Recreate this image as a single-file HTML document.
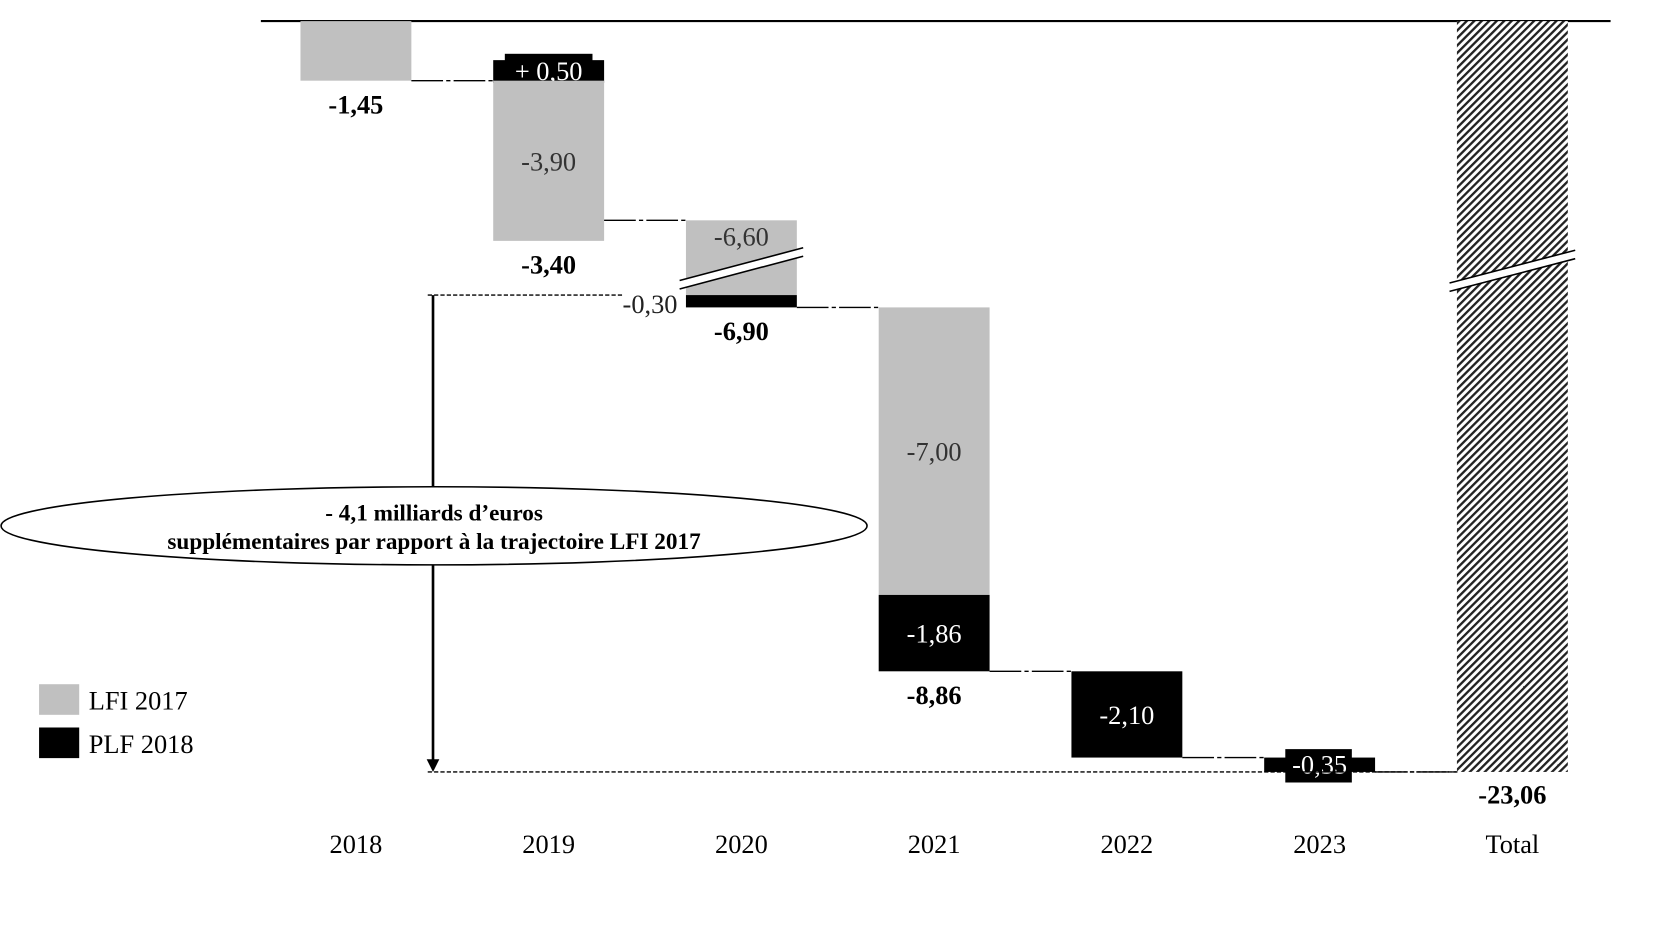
<!DOCTYPE html>
<html><head><meta charset="utf-8"><style>
html,body{margin:0;padding:0;background:#fff;}
svg{display:block;font-family:"Liberation Serif",serif;}
</style></head><body>
<svg id="chart" width="1656" height="926" viewBox="0 0 1568 877" preserveAspectRatio="none" xmlns="http://www.w3.org/2000/svg">
<defs>
<pattern id="hatch" patternUnits="userSpaceOnUse" width="5" height="5" patternTransform="rotate(45)">
<rect width="5" height="5" fill="#fff"/><rect width="2.2" height="5" fill="#222"/>
</pattern>
</defs>
<g id="g"></g>
</svg>
<script>
const categories = ["2018","2019","2020","2021","2022","2023","Total"];
const lfi = [-1.45, -3.90, -6.60, -7.00, 0, 0];
const plf = [0, 0.50, -0.30, -1.86, -2.10, -0.35];
const lfiLabels = ["", "-3,90", "-6,60", "-7,00", "", ""];
const plfLabels = ["", "+ 0,50", "-0,30", "-1,86", "-2,10", "-0,35"];
const cumLabels = ["-1,45", "-3,40", "-6,90", "-8,86", "", "", "-23,06"];
const breakCut = 4.78; // axis-break compression on 2020 LFI bar and total

const NS = "http://www.w3.org/2000/svg";
const g = document.getElementById("g");
const y0 = 20, k = 38.9;
const yScale = v => y0 + v * k;
const xCenter = i => 337 + i * 182.5;
const bw = 105;
function el(tag, attrs, parent){ const e=document.createElementNS(NS,tag); for(const a in attrs) e.setAttribute(a,attrs[a]); (parent||g).appendChild(e); return e; }
function txt(x,y,s,opt){ const t=el("text",Object.assign({x:x,y:y,"text-anchor":"middle","font-size":25,fill:"#000"},opt||{})); t.textContent=s; return t; }

const ax = el("line",{x1:247,y1:20,x2:1525,y2:20,stroke:"#000","stroke-width":2});



let L = 0;
const levels = [];
for (let i=0;i<lfi.length;i++){
  const cx = xCenter(i), x = cx - bw/2;
  if (plf[i] > 0) {
    const top = yScale(L - plf[i]), bot = yScale(L);
    const b = el("rect",{x:x,y:top,width:bw,height:bot-top+2,fill:"#000"});
    
    
    const lb = el("rect",{x:x+11,y:top-6,width:bw-22,height:bot-top+13,fill:"#000"});
    
    
    const t = txt(cx, top+19, plfLabels[i], {fill:"#fff"});
    
    
  }
  if (lfi[i] < 0) {
    let len = -lfi[i];
    const broken = (i===2);
    if (broken) len -= breakCut;
    const top = yScale(L), bot = yScale(L+len);
    const b = el("rect",{x:x,y:top,width:bw,height:bot-top,fill:"#c0c0c0"});
    
    
    if (lfiLabels[i]) {
      const ty = broken ? top+24 : (top+bot)/2+9;
      const t = txt(cx, ty, lfiLabels[i], {fill:"#333"});
      
      
    }
    if (broken) {
      const bk = el("polygon",{points:`${x-6},${top+57} ${x+bw+6},${top+26} ${x+bw+6},${top+34} ${x-6},${top+65}`,fill:"#fff"});
      
      
      el("line",{x1:x-6,y1:top+57,x2:x+bw+6,y2:top+26,stroke:"#000","stroke-width":1.5});
      el("line",{x1:x-6,y1:top+65,x2:x+bw+6,y2:top+34,stroke:"#000","stroke-width":1.5});
    }
    L += len;
  }
  if (plf[i] > 0) L -= plf[i];
  if (plf[i] < 0) {
    const len = -plf[i];
    const top = yScale(L), bot = yScale(L+len);
    const b = el("rect",{x:x,y:top,width:bw,height:bot-top,fill:"#000"});
    
    
    if (i===2) {
      const t = txt(x-8, top+17, plfLabels[i], {"text-anchor":"end",fill:"#222"});
      
      
    } else if (len < 0.6) {
      const lb = el("rect",{x:x+20,y:top-8,width:bw-42,height:bot-top+18,fill:"#000"});
      
      
      const t = txt(cx, top+15, plfLabels[i], {fill:"#fff"});
      
      
    } else {
      const t = txt(cx, (top+bot)/2+9, plfLabels[i], {fill:"#fff"});
      
      
    }
    L += len;
  }
  levels.push(L);
  if (cumLabels[i]) {
    const lowest = Math.max(yScale(L), plf[i]>0 ? yScale(L + plf[i]) : 0);
    const t = txt(cx, lowest+31, cumLabels[i], {"font-weight":"bold"});
    
    
  }
  const c = el("line",{x1:x+bw,y1:yScale(L),x2:x+182.5,y2:yScale(L),stroke:"#000","stroke-width":1.3,"stroke-dasharray":"30 3 4 3"});
  
  
}

{
  const i = categories.length-1, cx = xCenter(i), x = cx-bw/2;
  const top = yScale(0), bot = yScale(L);
  const b = el("rect",{x:x,y:top,width:bw,height:bot-top,fill:"url(#hatch)"});
  
  
  const bk = el("polygon",{points:`${x-7},${top+248} ${x+bw+7},${top+217} ${x+bw+7},${top+225} ${x-7},${top+256}`,fill:"#fff"});
  
  
  el("line",{x1:x-7,y1:top+248,x2:x+bw+7,y2:top+217,stroke:"#000","stroke-width":1.5});
  el("line",{x1:x-7,y1:top+256,x2:x+bw+7,y2:top+225,stroke:"#000","stroke-width":1.5});
  const t = txt(cx, bot+30, cumLabels[i], {"font-weight":"bold"});
  
  
}

categories.forEach((c,i)=>{
  const t = txt(xCenter(i), 808, c);
  
  
});

const yA = yScale(levels[1] + (-lfi[2]-breakCut));
const yB = yScale(levels[levels.length-1]);
const d1 = el("line",{x1:405,y1:yA,x2:590,y2:yA,stroke:"#000","stroke-width":1.3,"stroke-dasharray":"4 2"});


const d2 = el("line",{x1:405,y1:yB,x2:1380,y2:yB,stroke:"#000","stroke-width":1.3,"stroke-dasharray":"4 2"});


const ar = el("line",{x1:410,y1:yA,x2:410,y2:yB-10,stroke:"#000","stroke-width":2.5});


el("polygon",{points:`404,${yB-12} 416,${yB-12} 410,${yB}`,fill:"#000"});

const ell = el("ellipse",{cx:411,cy:498,rx:410,ry:37,fill:"#fff",stroke:"#000","stroke-width":1.5});


const a1 = txt(411,493,"- 4,1 milliards d’euros",{"font-weight":"bold","font-size":22});


const a2 = txt(411,520,"supplémentaires par rapport à la trajectoire LFI 2017",{"font-weight":"bold","font-size":22});



const l1 = el("rect",{x:37,y:648,width:38,height:29,fill:"#c0c0c0"});


const lt1 = txt(84,672,"LFI 2017",{"text-anchor":"start"});


const l2 = el("rect",{x:37,y:689,width:38,height:29,fill:"#000"});


const lt2 = txt(84,713,"PLF 2018",{"text-anchor":"start"});


</script>
</body></html>
